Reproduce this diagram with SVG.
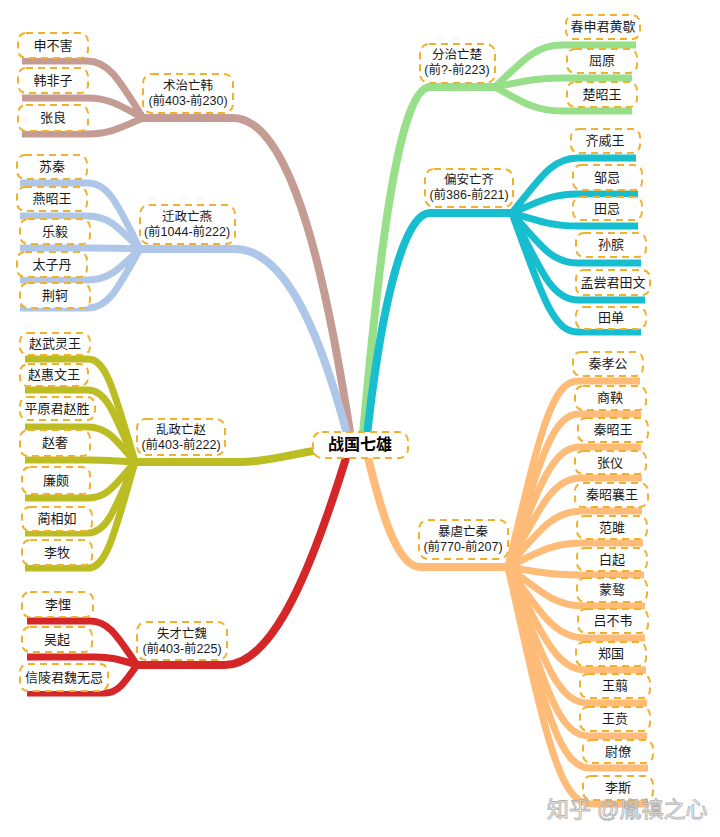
<svg xmlns="http://www.w3.org/2000/svg" width="720" height="837" viewBox="0 0 720 837">
<style>
.ln{fill:none;stroke-width:7;stroke-linecap:butt;stroke-linejoin:round}
.mn{fill:none;stroke-width:8;stroke-linecap:butt;stroke-linejoin:round}
.han{stroke:#c49c94}.yan{stroke:#aec7e8}.zhao{stroke:#bcbd22}.wei{stroke:#d62728}
.chu{stroke:#98df8a}.qi{stroke:#17becf}.qin{stroke:#ffbb78}
.box{fill:#fff;stroke:#f0b22e;stroke-width:2;stroke-dasharray:7 5}
text{font-family:"Liberation Sans","Noto Sans CJK SC",sans-serif;font-size:13px;fill:#1a1a1a;text-anchor:middle}
.m{font-size:12.5px}
.c{font-size:16px;font-weight:bold;fill:#000}
.wm{font-size:22px;fill:#fff;stroke:#a8a8a8;stroke-width:0.9;text-anchor:start;opacity:0.85}
</style>
<rect width="720" height="837" fill="#fff"/>
<g id="connectors">
<path class="mn han" d="M143,118 H233 C295,118 330,300 352,445"/>
<path class="mn yan" d="M140,249 H235 C290,249 325,350 350,445"/>
<path class="mn zhao" d="M135,462 H240 C275,462 300,450 357,445"/>
<path class="mn wei" d="M137,665 H225 C275,665 315,560 350,445"/>
<path class="mn chu" d="M495,87 H430 C395,87 375,300 362,445"/>
<path class="mn qi" d="M512,213 H430 C400,213 378,330 366,445"/>
<path class="mn qin" d="M508,567 H420 C395,567 378,500 365,445"/>
<path class="ln han" d="M143,118 C118,78 108,61 87,61 H22"/>
<path class="ln han" d="M143,118 C118,104 108,98 87,98 H22"/>
<path class="ln han" d="M143,118 C118,129 108,134 87,134 H22"/>
<path class="ln yan" d="M140,249 C117,203 108,183 88,183 H20"/>
<path class="ln yan" d="M140,249 C117,226 108,216 88,216 H20"/>
<path class="ln yan" d="M140,249 C117,248 108,248 88,248 H20"/>
<path class="ln yan" d="M140,249 C117,271 108,280 88,280 H20"/>
<path class="ln yan" d="M140,249 C117,290 108,308 88,308 H20"/>
<path class="ln zhao" d="M135,462 C114,390 106,359 88,359 H25"/>
<path class="ln zhao" d="M135,462 C114,412 106,390 88,390 H25"/>
<path class="ln zhao" d="M135,462 C114,437 106,427 88,427 H25"/>
<path class="ln zhao" d="M135,462 C114,461 106,460 88,460 H25"/>
<path class="ln zhao" d="M135,462 C114,487 106,498 88,498 H25"/>
<path class="ln zhao" d="M135,462 C114,512 106,533 88,533 H25"/>
<path class="ln zhao" d="M135,462 C114,536 106,568 88,568 H25"/>
<path class="ln wei" d="M137,665 C116,634 108,621 90,621 H27"/>
<path class="ln wei" d="M137,665 C118,659 111,657 95,657 H27"/>
<path class="ln wei" d="M137,665 C123,685 117,693 105,693 H27"/>
<path class="ln chu" d="M495,87 C525,58 537,45 562,45 H636"/>
<path class="ln chu" d="M495,87 C525,81 537,78 562,78 H632"/>
<path class="ln chu" d="M495,87 C525,104 537,111 562,111 H632"/>
<path class="ln qi" d="M512,213 C542,175 553,158 578,158 H636"/>
<path class="ln qi" d="M512,213 C542,200 553,194 578,194 H638"/>
<path class="ln qi" d="M512,213 C542,222 553,226 578,226 H638"/>
<path class="ln qi" d="M512,213 C542,248 553,263 578,263 H641"/>
<path class="ln qi" d="M512,213 C542,274 553,300 578,300 H645"/>
<path class="ln qi" d="M512,213 C542,296 553,332 578,332 H641"/>
<path class="ln qin" d="M508,567 C539,437 551,381 578,381 H640"/>
<path class="ln qin" d="M508,567 C540,460 552,414 579,414 H641"/>
<path class="ln qin" d="M508,567 C540,483 553,447 580,447 H641"/>
<path class="ln qin" d="M508,567 C541,505 553,478 581,478 H642"/>
<path class="ln qin" d="M508,567 C541,528 554,511 582,511 H642"/>
<path class="ln qin" d="M508,567 C542,550 554,543 583,543 H643"/>
<path class="ln qin" d="M508,567 C542,573 555,575 584,575 H644"/>
<path class="ln qin" d="M508,567 C543,594 556,606 585,606 H645"/>
<path class="ln qin" d="M508,567 C543,617 556,638 586,638 H645"/>
<path class="ln qin" d="M508,567 C544,639 557,670 587,670 H646"/>
<path class="ln qin" d="M508,567 C544,662 558,703 588,703 H647"/>
<path class="ln qin" d="M508,567 C544,685 558,736 589,736 H647"/>
<path class="ln qin" d="M508,567 C545,708 559,768 590,768 H648"/>
<path class="ln qin" d="M508,567 C545,733 559,804 591,804 H648"/>
</g>

<g id="center"><rect class="box" x="313" y="432" width="95" height="26" rx="9"/><text class="c" x="360" y="450">战国七雄</text></g>

<g id="han"><rect class="box" x="143" y="74" width="90" height="39" rx="9"/><text class="m" x="188" y="90">术治亡韩</text><text class="m" x="188" y="105">(前403-前230)</text></g>
<g id="yan"><rect class="box" x="140" y="205" width="95" height="39" rx="9"/><text class="m" x="187" y="221">迁政亡燕</text><text class="m" x="187" y="236">(前1044-前222)</text></g>
<g id="zhao"><rect class="box" x="137" y="419" width="88" height="36" rx="9"/><text class="m" x="181" y="434">乱政亡赵</text><text class="m" x="181" y="449">(前403-前222)</text></g>
<g id="wei"><rect class="box" x="137" y="622" width="90" height="38" rx="9"/><text class="m" x="182" y="638">失才亡魏</text><text class="m" x="182" y="653">(前403-前225)</text></g>
<g id="chu"><rect class="box" x="420" y="44" width="75" height="39" rx="9"/><text class="m" x="457" y="59">分治亡楚</text><text class="m" x="457" y="74">(前?-前223)</text></g>
<g id="qi"><rect class="box" x="425" y="169" width="88" height="38" rx="9"/><text class="m" x="469" y="184">偏安亡齐</text><text class="m" x="469" y="199">(前386-前221)</text></g>
<g id="qin"><rect class="box" x="419" y="520" width="89" height="39" rx="9"/><text class="m" x="463" y="536">暴虐亡秦</text><text class="m" x="463" y="551">(前770-前207)</text></g>

<g id="n-shenbuhai"><rect class="box" x="18" y="33" width="70" height="25" rx="8"/><text x="53" y="50">申不害</text></g>
<g id="n-hanfeizi"><rect class="box" x="18" y="68" width="70" height="25" rx="8"/><text x="53" y="85">韩非子</text></g>
<g id="n-zhangliang"><rect class="box" x="18" y="105" width="70" height="26" rx="8"/><text x="53" y="122">张良</text></g>

<g id="n-suqin"><rect class="box" x="17" y="155" width="70" height="24" rx="8"/><text x="52" y="171">苏秦</text></g>
<g id="n-yanzhaowang"><rect class="box" x="17" y="187" width="70" height="24" rx="8"/><text x="52" y="203">燕昭王</text></g>
<g id="n-yueyi"><rect class="box" x="20" y="219" width="70" height="25" rx="8"/><text x="55" y="236">乐毅</text></g>
<g id="n-taizidan"><rect class="box" x="17" y="252" width="70" height="25" rx="8"/><text x="52" y="269">太子丹</text></g>
<g id="n-jingke"><rect class="box" x="20" y="283" width="70" height="25" rx="8"/><text x="55" y="300">荆轲</text></g>

<g id="n-zhaowulingwang"><rect class="box" x="20" y="333" width="70" height="22" rx="8"/><text x="55" y="348">赵武灵王</text></g>
<g id="n-zhaohuiwenwang"><rect class="box" x="20" y="364" width="68" height="22" rx="8"/><text x="54" y="379">赵惠文王</text></g>
<g id="n-pingyuanjun"><rect class="box" x="20" y="397" width="75" height="23" rx="8"/><text x="57" y="413">平原君赵胜</text></g>
<g id="n-zhaoshe"><rect class="box" x="20" y="430" width="70" height="26" rx="8"/><text x="55" y="447">赵奢</text></g>
<g id="n-lianpo"><rect class="box" x="22" y="467" width="68" height="27" rx="8"/><text x="56" y="485">廉颇</text></g>
<g id="n-linxiangru"><rect class="box" x="22" y="507" width="70" height="24" rx="8"/><text x="57" y="523">蔺相如</text></g>
<g id="n-limu"><rect class="box" x="22" y="540" width="70" height="25" rx="8"/><text x="57" y="557">李牧</text></g>

<g id="n-likui"><rect class="box" x="22" y="592" width="71" height="25" rx="8"/><text x="58" y="609">李悝</text></g>
<g id="n-wuqi"><rect class="box" x="22" y="627" width="70" height="25" rx="8"/><text x="57" y="644">吴起</text></g>
<g id="n-xinlingjun"><rect class="box" x="20" y="664" width="88" height="27" rx="8"/><text x="64" y="682">信陵君魏无忌</text></g>

<g id="n-chunshenjun"><rect class="box" x="566" y="15" width="74" height="24" rx="8"/><text x="603" y="31">春申君黄歇</text></g>
<g id="n-quyuan"><rect class="box" x="567" y="49" width="70" height="24" rx="8"/><text x="602" y="65">屈原</text></g>
<g id="n-chuzhaowang"><rect class="box" x="567" y="82" width="70" height="25" rx="8"/><text x="602" y="99">楚昭王</text></g>

<g id="n-qiweiwang"><rect class="box" x="571" y="129" width="69" height="24" rx="8"/><text x="605" y="145">齐威王</text></g>
<g id="n-zouji"><rect class="box" x="573" y="165" width="69" height="25" rx="8"/><text x="607" y="182">邹忌</text></g>
<g id="n-tianji"><rect class="box" x="573" y="197" width="69" height="23" rx="8"/><text x="607" y="213">田忌</text></g>
<g id="n-sunbin"><rect class="box" x="576" y="233" width="70" height="24" rx="8"/><text x="611" y="249">孙膑</text></g>
<g id="n-mengchangjun"><rect class="box" x="576" y="270" width="74" height="25" rx="8"/><text x="613" y="287">孟尝君田文</text></g>
<g id="n-tiandan"><rect class="box" x="576" y="307" width="70" height="22" rx="8"/><text x="611" y="322">田单</text></g>

<g id="n-qinxiaogong"><rect class="box" x="573" y="352" width="70" height="24" rx="8"/><text x="608" y="368">秦孝公</text></g>
<g id="n-shangyang"><rect class="box" x="575" y="386" width="71" height="24" rx="8"/><text x="610" y="402">商鞅</text></g>
<g id="n-qinzhaowang"><rect class="box" x="578" y="418" width="70" height="24" rx="8"/><text x="613" y="434">秦昭王</text></g>
<g id="n-zhangyi"><rect class="box" x="575" y="451" width="71" height="23" rx="8"/><text x="610" y="467">张仪</text></g>
<g id="n-qinzhaoxiangwang"><rect class="box" x="575" y="483" width="73" height="24" rx="8"/><text x="612" y="499">秦昭襄王</text></g>
<g id="n-fanju"><rect class="box" x="577" y="516" width="70" height="23" rx="8"/><text x="612" y="532">范雎</text></g>
<g id="n-baiqi"><rect class="box" x="577" y="548" width="70" height="23" rx="8"/><text x="612" y="564">白起</text></g>
<g id="n-mengao"><rect class="box" x="577" y="578" width="70" height="24" rx="8"/><text x="612" y="594">蒙骜</text></g>
<g id="n-lvbuwei"><rect class="box" x="578" y="609" width="70" height="24" rx="8"/><text x="613" y="625">吕不韦</text></g>
<g id="n-zhengguo"><rect class="box" x="576" y="642" width="70" height="24" rx="8"/><text x="611" y="658">郑国</text></g>
<g id="n-wangjian"><rect class="box" x="580" y="674" width="70" height="24" rx="8"/><text x="615" y="690">王翦</text></g>
<g id="n-wangben"><rect class="box" x="580" y="707" width="70" height="24" rx="8"/><text x="615" y="723">王贲</text></g>
<g id="n-weiliao"><rect class="box" x="583" y="740" width="70" height="23" rx="8"/><text x="618" y="756">尉僚</text></g>
<g id="n-lisi"><rect class="box" x="583" y="776" width="70" height="24" rx="8"/><text x="618" y="792">李斯</text></g>

<text class="wm" x="547" y="817">知乎 @胤禛之心</text>
</svg>
